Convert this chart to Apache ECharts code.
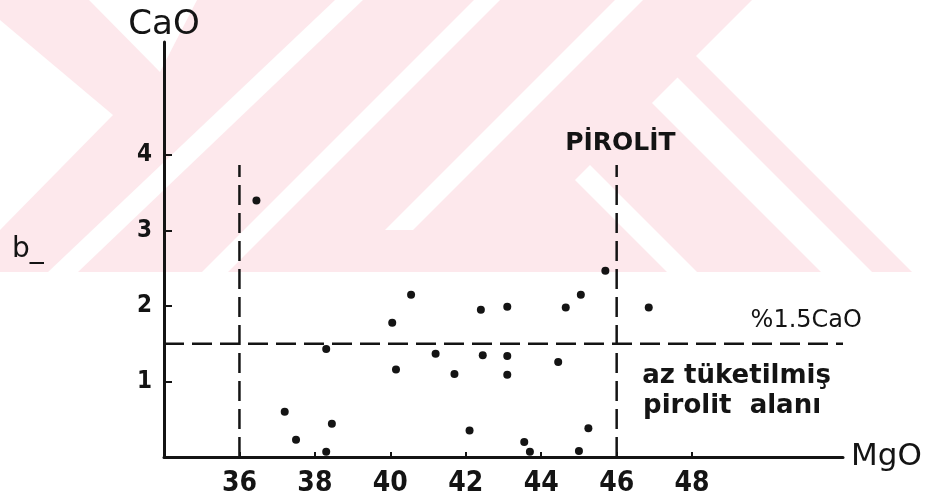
<!DOCTYPE html>
<html>
<head>
<meta charset="utf-8">
<script src="https://cdn.jsdelivr.net/npm/echarts@6/dist/echarts.min.js"></script>
<style>
  html, body { margin: 0; padding: 0; background: #fff; }
  #chart { width: 930px; height: 501px; }
</style>
</head>
<body>
<div id="chart"></div>
<script>
// MgO (wt%) and CaO (wt%) of the analysed samples
const mgo = [36.45, 37.2, 37.5, 38.3, 38.45, 38.3, 40.05, 40.55, 40.15, 41.2, 41.7, 42.1, 42.4, 42.45, 43.1, 43.1, 43.1, 43.55, 43.7, 44.45, 44.65, 45.05, 45.7, 45.0, 45.25, 46.85];
const cao = [3.40, 0.60, 0.23, 1.43, 0.44, 0.07, 1.78, 2.15, 1.16, 1.37, 1.10, 0.35, 1.95, 1.35, 1.99, 1.34, 1.09, 0.20, 0.07, 1.26, 1.98, 2.15, 2.47, 0.08, 0.38, 1.98];

// tick labels
const xTicks = [36, 38, 40, 42, 44, 46, 48];
const yTicks = [1, 2, 3, 4];

// reference lines
const mgoLow = 36;          // left boundary
const mgoPyrolite = 46;     // pyrolite MgO
const caoLimit = 1.5;       // %1.5 CaO
const guideTop = 3.87;      // top of the vertical guides

const INK = '#141414';
const NARROW = '"Liberation Sans Narrow","DejaVu Sans Condensed","DejaVu Sans",sans-serif';
const SANS = '"DejaVu Sans",sans-serif';

const chart = echarts.init(document.getElementById('chart'), null, { renderer: 'canvas' });

const dashed = (data) => ({
  type: 'line',
  data: data,
  symbol: 'none',
  silent: true,
  animation: false,
  z: 3,
  lineStyle: { color: INK, width: 2.5, type: [20, 8] }
});

// faint background stamp in the upper band of the page
const PINK = '#fde8ec';
const stamp = [
  { fill: PINK, pts: [[0,0],[752,0],[696,56],[912,272],[0,272]] },
  { fill: '#fff', pts: [[0,20],[113,115],[0,230]] },
  { fill: '#fff', pts: [[89,0],[197,0],[160,72]] },
  { fill: '#fff', pts: [[335,0],[363,0],[78,272],[48,272]] },
  { fill: '#fff', pts: [[474,0],[500,0],[228,272],[202,272]] },
  { fill: '#fff', pts: [[615,0],[643,0],[413,230],[385,230]] },
  { fill: '#fff', pts: [[652,103],[677.5,77.5],[872,272],[821,272]] },
  { fill: '#fff', pts: [[575,180],[590,165],[697,272],[667,272]] }
];
const stampEls = stamp.map((s) => ({
  type: 'polygon',
  silent: true,
  z: -100,
  shape: { points: s.pts },
  style: { fill: s.fill, stroke: null }
}));

chart.setOption({
  animation: false,
  backgroundColor: '#fff',
  grid: { left: 164, right: 87, top: 42, bottom: 44, containLabel: false, outerBoundsMode: 'none' },
  xAxis: {
    type: 'value',
    min: 34, max: 52, interval: 2,
    name: 'MgO',
    nameLocation: 'end',
    nameGap: 8,
    nameTextStyle: { color: INK, fontSize: 31, fontFamily: SANS, verticalAlign: 'middle', padding: [0, 0, 4, 0] },
    axisLine: { show: true, onZero: false, lineStyle: { color: INK, width: 3 } },
    axisTick: { show: true, inside: true, length: 5, customValues: xTicks, lineStyle: { color: INK, width: 2 } },
    axisLabel: { customValues: xTicks, margin: 13, color: INK, fontSize: 28, fontWeight: 'bold', fontFamily: NARROW },
    splitLine: { show: false }
  },
  yAxis: {
    type: 'value',
    min: 0, max: 5.5, interval: 1,
    name: 'CaO',
    nameLocation: 'end',
    nameGap: 0,
    nameTextStyle: { color: INK, fontSize: 34, fontFamily: SANS, align: 'center' },
    axisLine: { show: true, onZero: false, lineStyle: { color: INK, width: 3 } },
    axisTick: { show: true, inside: true, length: 8, customValues: yTicks, lineStyle: { color: INK, width: 2 } },
    axisLabel: { customValues: yTicks, margin: 12, color: INK, fontSize: 24, fontWeight: 'bold', fontFamily: NARROW },
    splitLine: { show: false }
  },
  graphic: stampEls,
  series: [
    dashed([[mgoLow, 0], [mgoLow, guideTop]]),
    dashed([[mgoPyrolite, 0], [mgoPyrolite, guideTop]]),
    dashed([[34, caoLimit], [52, caoLimit]]),
    {
      type: 'scatter',
      data: mgo.map((m, i) => [m, cao[i]]),
      symbol: 'circle',
      symbolSize: 8,
      itemStyle: { color: INK, opacity: 1 },
      z: 4
    }
  ]
});

// annotations anchored in data space
const at = (x, y) => chart.convertToPixel({ gridIndex: 0 }, [x, y]);
const label = (text, x, y, size, align, weight, family) => {
  const p = at(x, y);
  return {
    type: 'text', silent: true, z: 10,
    x: p[0], y: p[1],
    style: {
      text: text, fill: INK, align: align, verticalAlign: 'middle',
      font: (weight || 'normal') + ' ' + size + 'px ' + (family || SANS)
    }
  };
};

chart.setOption({
  graphic: stampEls.concat([
    label('PİROLİT', 46.1, 4.16, 25, 'center', 'bold'),
    label('%1.5CaO', 49.55, 1.80, 24, 'left'),
    label('az tüketilmiş', 46.68, 1.07, 26, 'left', 'bold'),
    label('pirolit  alanı', 46.70, 0.67, 26, 'left', 'bold'),
    { type: 'text', silent: true, z: 10, x: 12, y: 250,
      style: { text: 'b_', fill: INK, align: 'left', verticalAlign: 'middle', font: 'normal 28px ' + SANS } }
  ])
}, { replaceMerge: ['graphic'] });
</script>
</body>
</html>
